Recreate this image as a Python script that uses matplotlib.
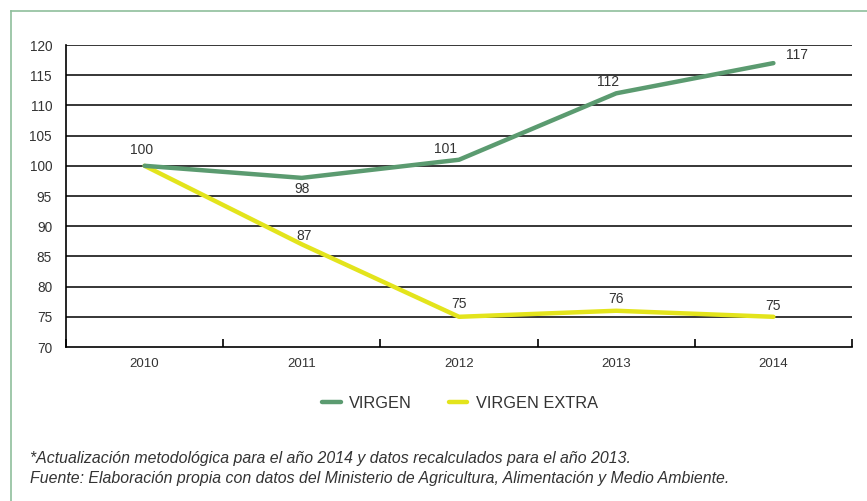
import matplotlib
matplotlib.use("Agg")
import matplotlib.pyplot as plt
from matplotlib.lines import Line2D

years = ["2010", "2011", "2012", "2013", "2014"]
virgen = [100, 98, 101, 112, 117]
virgen_extra = [100, 87, 75, 76, 75]
yticks = [70, 75, 80, 85, 90, 95, 100, 105, 110, 115, 120]

green = "#5b9b70"
yellow = "#e3e41c"
txt = "#333333"

plt.rcParams['font.family'] = ['Liberation Sans', 'DejaVu Sans']

fig = plt.figure(figsize=(8.67, 5.01), dpi=100)
ax = fig.add_axes([66/867, 1-347/501, (852-66)/867, (347-45)/501])

x = list(range(len(years)))
ax.plot(x, virgen_extra, color=yellow, lw=3.2, solid_capstyle='round', solid_joinstyle='round', zorder=3)
ax.plot(x, virgen, color=green, lw=3.2, solid_capstyle='round', solid_joinstyle='round', zorder=4)

ax.set_xlim(-0.5, len(years) - 0.5)
ax.set_ylim(70, 120)
ax.set_yticks(yticks)
ax.set_yticklabels([str(v) for v in yticks], fontsize=9.8, color=txt)
ax.tick_params(axis='y', length=0, pad=10)
ax.set_xticks(x)
ax.set_xticklabels(years, fontsize=9.5, color=txt)
ax.tick_params(axis='x', which='major', length=0, pad=8)
ax.set_xticks([i - 0.5 for i in range(len(years) + 1)], minor=True)
ax.tick_params(axis='x', which='minor', direction='in', length=6, width=1.2, color='black')
for yv in yticks[1:]:
    ax.axhline(yv, color='black', lw=1.1, zorder=1)
for s in ['top', 'right']:
    ax.spines[s].set_visible(False)
for s in ['left', 'bottom']:
    ax.spines[s].set_color('black')
    ax.spines[s].set_linewidth(1.2)

# data labels
offsets_v = [(-2, 6, 'center', 'bottom'), (0, -3, 'center', 'top'), (-10, 3, 'center', 'bottom'),
             (-6, 3, 'center', 'bottom'), (9, 1, 'left', 'bottom')]
for i, v in enumerate(virgen):
    dx, dy, ha, va = offsets_v[i]
    ax.annotate(str(v), (i, v), xytext=(dx, dy), textcoords='offset points',
                ha=ha, va=va, fontsize=10, color=txt, zorder=5)
offsets_e = [None, (2, 1), (0, 4.5), (0, 3.5), (0, 3)]
for i, v in enumerate(virgen_extra):
    if offsets_e[i] is None:
        continue
    dx, dy = offsets_e[i]
    ax.annotate(str(v), (i, v), xytext=(dx, dy), textcoords='offset points',
                ha='center', va='bottom', fontsize=10, color=txt, zorder=5)

handles = [Line2D([0], [0], color=green, lw=3.2, solid_capstyle='round'),
           Line2D([0], [0], color=yellow, lw=3.2, solid_capstyle='round')]
leg = fig.legend(handles, ["VIRGEN", "VIRGEN EXTRA"], loc='center', bbox_to_anchor=(460/867, 1-403/501),
                 ncol=2, frameon=False, fontsize=11.8, handlelength=1.1, handletextpad=0.5, columnspacing=2.3)
for t in leg.get_texts():
    t.set_color(txt)

# border lines
fig.add_artist(Line2D([11/867, 11/867], [0, 1-11/501], transform=fig.transFigure, color="#8fbf9c", lw=1.2))
fig.add_artist(Line2D([11/867, 1], [1-11/501, 1-11/501], transform=fig.transFigure, color="#8fbf9c", lw=1.2))

foot_family = ['Liberation Sans', 'DejaVu Sans']
fig.text(30/867, 1-458/501, "*Actualización metodológica para el año 2014 y datos recalculados para el año 2013.",
         fontsize=11.4, style='italic', color=txt, va='center', family=foot_family)
fig.text(30/867, 1-478/501, "Fuente: Elaboración propia con datos del Ministerio de Agricultura, Alimentación y Medio Ambiente.",
         fontsize=11.4, style='italic', color=txt, va='center', family=foot_family)

fig.savefig("out.png", dpi=100)
